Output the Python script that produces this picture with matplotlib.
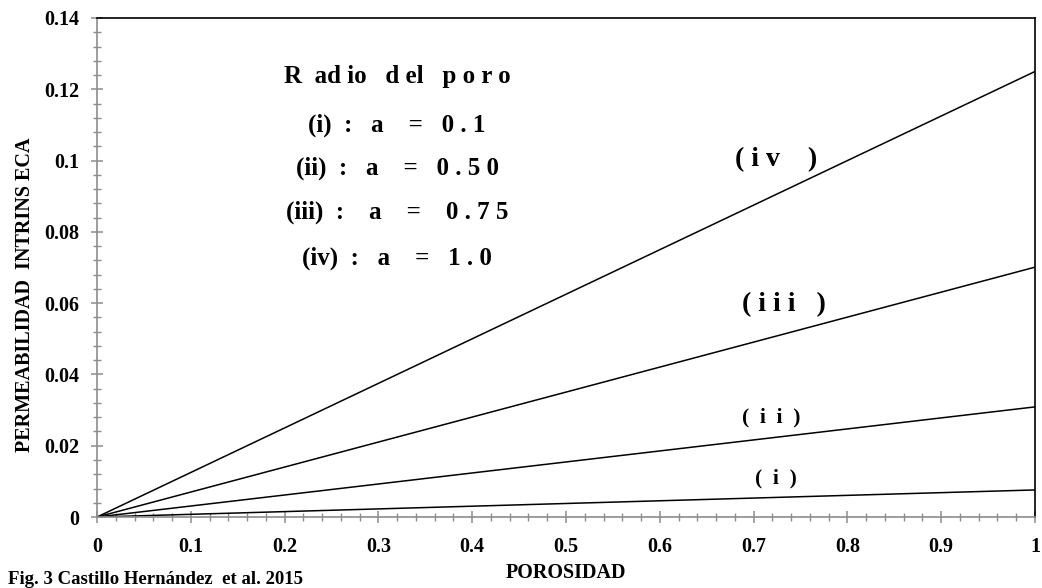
import matplotlib
matplotlib.use("Agg")
from matplotlib import pyplot as plt
from matplotlib.ticker import MultipleLocator, FuncFormatter

# permeability reached at porosity = 1 for each pore radius
curve_names = ["(i)", "(ii)", "(iii)", "(iv)"]
end_values = [0.0076, 0.0309, 0.0701, 0.125]
porosity = [0.0, 1.0]

# curve tags: left edge (porosity), centre (permeability), text, size
tag_x = [0.702, 0.688, 0.688, 0.680]
tag_y = [0.0107, 0.0278, 0.0595, 0.1004]
tag_text = ["(  i  )", "(  i  i  )", "( i i i   )", "( i v    )"]
tag_size = [15.5, 15.5, 20, 20]

box_lines = ["R  ad io   d el   p o r o",
             "(i)  :   a    =   0 . 1",
             "(ii)  :   a    =   0 . 5 0",
             "(iii)  :    a    =    0 . 7 5",
             "(iv)  :   a    =   1 . 0"]
box_y = [0.1236, 0.1100, 0.0979, 0.0856, 0.0727]

plt.rcParams["font.family"] = ["Liberation Serif", "DejaVu Serif"]
plt.rcParams["font.weight"] = "bold"

fig = plt.figure(figsize=(10.42, 5.88), dpi=100)
ax = fig.add_axes([0.0931, 0.1207, 0.9002, 0.8487])

for val in end_values:
    ax.plot(porosity, [0.0, val], color="black", lw=1.1, solid_capstyle="butt")

for x, y, t, s in zip(tag_x, tag_y, tag_text, tag_size):
    ax.text(x, y, t, fontsize=s, fontweight="bold", ha="left", va="center")

for t, y in zip(box_lines, box_y):
    ax.text(0.320, y, t, fontsize=18, fontweight="bold", ha="center", va="center")

ax.set_xlim(0, 1)
ax.set_ylim(0, 0.14)
ax.xaxis.set_major_locator(MultipleLocator(0.1))
ax.xaxis.set_minor_locator(MultipleLocator(0.02))
ax.yaxis.set_major_locator(MultipleLocator(0.02))
ax.yaxis.set_minor_locator(MultipleLocator(0.004))
fmt = FuncFormatter(lambda v, p: f"{round(v, 3):g}")
ax.xaxis.set_major_formatter(fmt)
ax.yaxis.set_major_formatter(fmt)

grey = "#8c8c8c"
for side in ["left", "bottom"]:
    ax.spines[side].set_color(grey)
    ax.spines[side].set_linewidth(1.2)
for side in ["top", "right"]:
    ax.spines[side].set_color("black")
    ax.spines[side].set_linewidth(1.2)

ax.tick_params(which="major", direction="inout", length=9, width=1.1, color=grey,
               labelsize=14.5)
ax.tick_params(which="minor", direction="inout", length=6, width=1.0, color=grey)
ax.tick_params(axis="x", which="major", pad=10)
ax.tick_params(axis="y", which="major", pad=8)
for lab in ax.get_xticklabels() + ax.get_yticklabels():
    lab.set_fontweight("bold")

ax.set_xlabel("POROSIDAD", fontsize=14.5, fontweight="bold")
ax.xaxis.set_label_coords(0.5, -0.092)
ax.set_ylabel("PERMEABILIDAD  INTRINS ECA", fontsize=14.5, fontweight="bold")
ax.yaxis.label.set_va("center")
ax.yaxis.set_label_coords(-0.077, 0.445)

fig.text(0.0077, 0.006, "Fig. 3 Castillo Hernández  et al. 2015", fontsize=13.5,
         fontweight="bold", ha="left", va="baseline")

fig.savefig("out.png", dpi=100)
